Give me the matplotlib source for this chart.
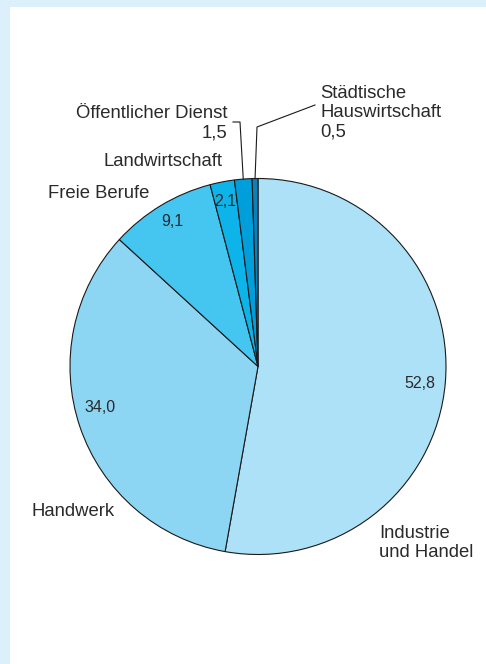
import numpy as np
import matplotlib
matplotlib.use("Agg")
import matplotlib.pyplot as plt
from matplotlib.patches import Rectangle

# Erwerbstaetige nach Wirtschaftsbereichen, Anteile in %
bereiche = ["Industrie\nund Handel", "Handwerk", "Freie Berufe", "Landwirtschaft",
            "Öffentlicher Dienst", "Städtische\nHauswirtschaft"]
anteile = [52.8, 34.0, 9.1, 2.1, 1.5, 0.5]
farben = ["#ade1f8", "#8cd6f4", "#45c6f1", "#0db4ea", "#009fdb", "#0a80bd"]

W, H = 486, 664
plt.rcParams["font.family"] = ["Liberation Sans", "DejaVu Sans"]
txt = "#2a2a2a"

def zahl(v):
    return ("%.1f" % v).replace(".", ",")

fig = plt.figure(figsize=(W / 100, H / 100), dpi=100)
fig.patch.set_facecolor("#dcf0fb")
ax = fig.add_axes([0, 0, 1, 1])
ax.set_facecolor("none")

# weisses Feld
ax.add_patch(Rectangle((10, 0), W - 10, H - 7, facecolor="white", edgecolor="none", zorder=0))

cx, cy, r = 258, H - 366.5, 188
wedges, _ = ax.pie(anteile, colors=farben, startangle=90, counterclock=False,
                   center=(cx, cy), radius=r,
                   wedgeprops=dict(edgecolor="#1a1a1a", linewidth=0.8))
ax.set_xlim(0, W)
ax.set_ylim(0, H)
ax.set_aspect("equal")
ax.axis("off")

def Y(y):
    return H - y

# Werte im Kreis
ax.text(420, Y(384), zahl(anteile[0]), fontsize=11.5, color=txt, ha="center", va="center")
ax.text(100, Y(407), zahl(anteile[1]), fontsize=11.5, color=txt, ha="center", va="center")
ax.text(172, Y(222), zahl(anteile[2]), fontsize=11.5, color=txt, ha="center", va="center")
ax.text(225, Y(202), zahl(anteile[3]), fontsize=11.5, color=txt, ha="center", va="center")

# Beschriftungen aussen
fs = 13.3
ls = 1.18
ax.text(379, Y(543), bereiche[0], fontsize=fs, color=txt, ha="left", va="center", linespacing=ls)
ax.text(31, Y(512), bereiche[1], fontsize=fs, color=txt, ha="left", va="center")
ax.text(48, Y(193), bereiche[2], fontsize=fs, color=txt, ha="left", va="center")
ax.text(222, Y(162), bereiche[3], fontsize=fs, color=txt, ha="right", va="center")
ax.text(227, Y(123), bereiche[4] + "\n" + zahl(anteile[4]), fontsize=fs, color=txt,
        ha="right", va="center", multialignment="right", linespacing=ls)
ax.text(320, Y(112.5), bereiche[5] + "\n" + zahl(anteile[5]), fontsize=fs, color=txt,
        ha="left", va="center", linespacing=ls)

# Hinweislinien fuer die kleinen Segmente
def rand(w):
    a = np.deg2rad((w.theta1 + w.theta2) / 2)
    return cx + r * np.cos(a), cy + r * np.sin(a)

x4, y4 = rand(wedges[4])
ax.plot([233, 240, x4], [Y(122), Y(122), y4], color="#1a1a1a", lw=0.8)
x5, y5 = rand(wedges[5])
ax.plot([315, 257, x5], [Y(105), Y(127), y5], color="#1a1a1a", lw=0.8)

fig.savefig("out.png", dpi=100, facecolor=fig.get_facecolor())
